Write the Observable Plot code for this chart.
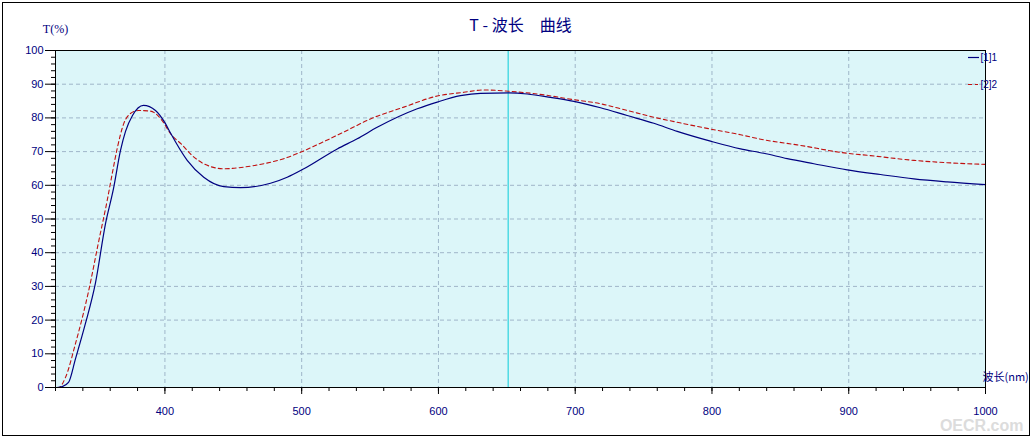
<!DOCTYPE html>
<html><head><meta charset="utf-8">
<script src="https://cdn.jsdelivr.net/npm/d3@7"></script>
<script src="https://cdn.jsdelivr.net/npm/@observablehq/plot@0.6"></script>
<style>body{margin:0;background:#fff}#chart svg{display:block}</style>
</head><body><div id="chart"></div>
<script>
// Series 1 (solid navy)
const wl1 = [321,325,329.5,334.6,341.9,349.2,356.6,362.4,367.5,371.2,376.3,384.3,393.1,400.4,404.1,416.3,428.4,443.1,455.3,477.2,489.4,501.6,526,540.6,555.2,584.5,599.1,616.1,630.7,651.5,664.9,681.9,699,718.5,738,757.5,774.6,798.9,820.9,837.9,855,874.5,898.9,923.2,947.6,972,1000];
const t1  = [0,0.3,1.5,8.5,19,31,48.7,59,70.3,76,80.7,83.7,82.2,78.3,75.5,67.4,62.4,59.6,59.3,60.6,62.4,64.9,70.8,73.8,77.2,82.7,84.7,86.6,87.3,87.4,87.1,86.1,84.9,83,80.7,78.4,76.0,73.1,70.8,69.5,67.9,66.4,64.6,63.2,61.9,61.0,60.2];
// Series 2 (dashed red)
const wl2 = [321,322.4,327.3,334.6,344.3,351.7,357.8,361.5,365.1,369.9,374.8,380.9,389.5,398,404.1,412.6,418.7,428.4,443.1,457.7,472.3,486.9,499.1,513.8,530.8,550.3,574.7,599.1,618.6,633.2,651.5,672.2,699,718.5,738,757.5,774.6,798.9,820.9,837.9,862.3,898.9,916,947.6,972,1000];
const t2  = [0,0,3,13,28.8,43.6,55.5,63.5,70.9,78.3,81.3,82.2,82,79.2,75.3,72,69.3,66.4,64.9,65.4,66.4,67.9,69.8,72.5,75.8,79.7,83.2,86.5,87.6,88.3,87.9,87.1,85.4,84.2,82.2,80.2,78.7,76.7,75,73.5,72,69.5,68.8,67.4,66.7,66.2];
const cursorNm = [651];
const xMajor = [400,500,600,700,800,900,1000];
const xMinor = d3.range(320,1001,20);
const xGrid = [400,500,600,700,800,900];
const yMajor = d3.range(0,101,10);
const yMinor = d3.range(0,101,2);
const yGrid = d3.range(10,100,10);
const seriesNames = ["[1]1","[2]2"];
const titleText = "T - 波长\u2002\u2002曲线";
const yLabel = "T(%)";
const xLabel = "波长(nm)";
const watermark = "OECR.com";

const s1 = wl1.map((w,i)=>({w, t:t1[i]}));
const s2 = wl2.map((w,i)=>({w, t:t2[i]}));
const navy = "#000080";
const fontCJK = "'Noto Sans CJK SC', 'Liberation Sans', sans-serif";
const plain = d => String(d);

const chart = Plot.plot({
  width:1034, height:438,
  marginLeft:55, marginRight:49, marginTop:50, marginBottom:51,
  style:{fontFamily:"'Liberation Sans', Arial, sans-serif", fontSize:"11px", background:"#fff", overflow:"visible"},
  x:{domain:[320,1000]},
  y:{domain:[0,100]},
  marks:[
    Plot.frame({fill:"#dcf6f9", stroke:null}),
    Plot.gridX(xGrid, {stroke:"#9fb6c9", strokeOpacity:1, strokeDasharray:"4,3"}),
    Plot.gridY(yGrid, {stroke:"#9fb6c9", strokeOpacity:1, strokeDasharray:"4,3"}),
    Plot.ruleX(cursorNm, {stroke:"#3ad6e0", strokeWidth:1.3}),
    Plot.line(s2, {x:"w", y:"t", stroke:"#c01010", strokeWidth:1.1, strokeDasharray:"4,3", curve:"monotone-x"}),
    Plot.line(s1, {x:"w", y:"t", stroke:navy, strokeWidth:1.2, curve:"monotone-x"}),
    Plot.frame({stroke:"#000"}),
    Plot.axisY(yMajor, {tickSize:10, tickPadding:2, stroke:"#000", fill:navy, label:null, fontSize:11, tickFormat:plain}),
    Plot.axisY(yMinor, {tickSize:4, stroke:"#000", fill:"none", label:null}),
    Plot.axisX(xMajor, {tickSize:7, tickPadding:13, stroke:"#000", fill:navy, label:null, fontSize:11, tickFormat:plain}),
    Plot.axisX(xMinor, {tickSize:4, stroke:"#000", fill:"none", label:null}),
    Plot.text([titleText], {text:d=>d, frameAnchor:"top", lineAnchor:"middle", dy:-25, fill:navy, fontSize:16, fontFamily:fontCJK}),
    Plot.text([yLabel], {text:d=>d, frameAnchor:"top-left", lineAnchor:"middle", dy:-21, textAnchor:"middle", fill:navy, fontSize:12, fontFamily:"'Liberation Serif', serif"}),
    Plot.text([xLabel], {text:d=>d, frameAnchor:"bottom-right", lineAnchor:"middle", dx:-3, dy:-10, textAnchor:"start", fill:navy, fontSize:11, fontFamily:fontCJK}),
    Plot.text([seriesNames[0]], {text:d=>d, frameAnchor:"top-right", lineAnchor:"middle", dx:-5, dy:7, textAnchor:"start", fill:navy, fontSize:10}),
    Plot.text([seriesNames[1]], {text:d=>d, frameAnchor:"top-right", lineAnchor:"middle", dx:-5, dy:34, textAnchor:"start", fill:navy, fontSize:10}),
    Plot.text([watermark], {text:d=>d, frameAnchor:"bottom-right", lineAnchor:"middle", dx:38, dy:38, textAnchor:"end", fill:"#dcdcdc", fontSize:16, fontWeight:"bold"})
  ]
});
document.getElementById("chart").appendChild(chart);

// decorations: outer border and legend swatches
const svg = d3.select(chart);
svg.append("rect").attr("x",2.5).attr("y",2.5).attr("width",1027).attr("height",433)
  .attr("fill","none").attr("stroke","#000").attr("stroke-width",1);
const frameRight = 1034-49, frameTop = 50;
svg.append("line").attr("x1",frameRight-17).attr("x2",frameRight-6).attr("y1",frameTop+7.5).attr("y2",frameTop+7.5)
  .attr("stroke",navy).attr("stroke-width",1.2);
svg.append("line").attr("x1",frameRight-17).attr("x2",frameRight-7).attr("y1",frameTop+34.5).attr("y2",frameTop+34.5)
  .attr("stroke","#c01010").attr("stroke-width",1.1).attr("stroke-dasharray","4,3");
</script></body></html>
